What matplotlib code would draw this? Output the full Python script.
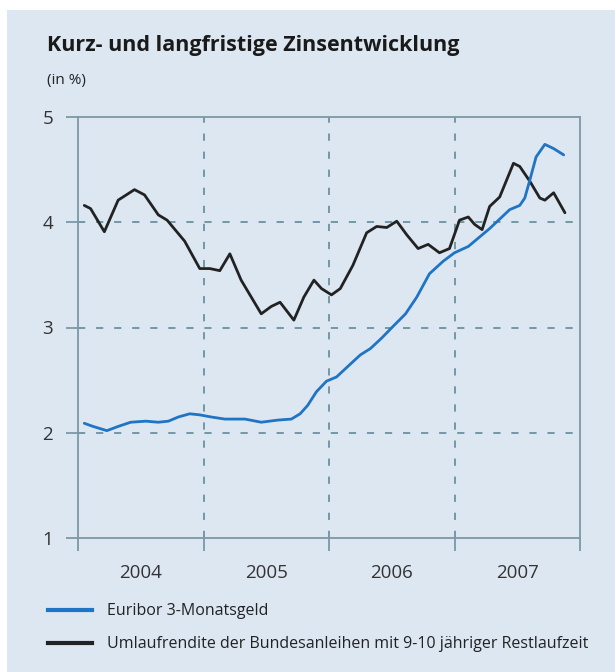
import numpy as np
import matplotlib as mpl
import matplotlib.pyplot as plt
from matplotlib.lines import Line2D
from matplotlib.patches import Rectangle

# Euribor 3-Monatsgeld (decimal years, percent)
euribor_t = [2004.05, 2004.12, 2004.23, 2004.32, 2004.42, 2004.54, 2004.64, 2004.72,
             2004.80, 2004.89, 2004.97, 2005.06, 2005.17, 2005.33, 2005.46, 2005.59,
             2005.70, 2005.77, 2005.83, 2005.90, 2005.98, 2006.06, 2006.15, 2006.25,
             2006.33, 2006.42, 2006.51, 2006.61, 2006.70, 2006.80, 2006.91, 2007.00,
             2007.11, 2007.20, 2007.28, 2007.36, 2007.44, 2007.52, 2007.56, 2007.60,
             2007.65, 2007.72, 2007.79, 2007.87]
euribor_v = [2.09, 2.06, 2.02, 2.06, 2.10, 2.11, 2.10, 2.11,
             2.15, 2.18, 2.17, 2.15, 2.13, 2.13, 2.10, 2.12,
             2.13, 2.18, 2.26, 2.39, 2.49, 2.53, 2.63, 2.74,
             2.80, 2.90, 3.01, 3.13, 3.29, 3.51, 3.63, 3.71,
             3.77, 3.86, 3.94, 4.03, 4.12, 4.16, 4.23, 4.40,
             4.62, 4.74, 4.70, 4.64]

# Umlaufrendite Bundesanleihen 9-10 Jahre
bund_t = [2004.05, 2004.10, 2004.21, 2004.32, 2004.45, 2004.53, 2004.64, 2004.71,
          2004.85, 2004.97, 2005.05, 2005.13, 2005.21, 2005.30, 2005.38, 2005.46,
          2005.54, 2005.61, 2005.72, 2005.80, 2005.88, 2005.94, 2006.02, 2006.09,
          2006.19, 2006.30, 2006.38, 2006.46, 2006.54, 2006.62, 2006.71, 2006.79,
          2006.88, 2006.96, 2007.04, 2007.11, 2007.16, 2007.22, 2007.28, 2007.36,
          2007.47, 2007.52, 2007.60, 2007.68, 2007.72, 2007.79, 2007.88]
bund_v = [4.16, 4.13, 3.91, 4.21, 4.31, 4.26, 4.07, 4.02,
          3.82, 3.56, 3.56, 3.54, 3.70, 3.45, 3.29, 3.13,
          3.20, 3.24, 3.07, 3.29, 3.45, 3.37, 3.31, 3.37,
          3.59, 3.90, 3.96, 3.95, 4.01, 3.88, 3.75, 3.79,
          3.71, 3.75, 4.02, 4.05, 3.98, 3.93, 4.15, 4.24,
          4.56, 4.53, 4.39, 4.23, 4.21, 4.28, 4.09]

years = [2004, 2005, 2006, 2007]
y_ticks = [1, 2, 3, 4, 5]

title = "Kurz- und langfristige Zinsentwicklung"
unit = "(in %)"
labels = ["Euribor 3-Monatsgeld",
          "Umlaufrendite der Bundesanleihen mit 9-10 jähriger Restlaufzeit"]

bg = "#dde7f2"
grid_col = "#6d909f"
spine_col = "#7c98a6"
blue = "#1f74c4"
black = "#222222"

plt.rcParams['font.family'] = ['Open Sans', 'DejaVu Sans']

W, H = 615, 672
fig = plt.figure(figsize=(W / 100, H / 100), dpi=100)
fig.patch.set_facecolor("white")
fig.add_artist(Rectangle((7 / W, 0), 1, 1 - 10 / H, transform=fig.transFigure,
                         facecolor=bg, edgecolor="none", zorder=-10))

ax = fig.add_axes([78 / W, 1 - 538 / H, (580 - 78) / W, (538 - 117) / H])
ax.set_facecolor(bg)

ax.plot(bund_t, bund_v, color=black, linewidth=2.0,
        solid_capstyle='round', solid_joinstyle='round', zorder=3)
ax.plot(euribor_t, euribor_v, color=blue, linewidth=2.0,
        solid_capstyle='round', solid_joinstyle='round', zorder=4)

ax.set_xlim(years[0], years[-1] + 1)
ax.set_ylim(y_ticks[0], y_ticks[-1])

for s in ax.spines.values():
    s.set_color(spine_col)
    s.set_linewidth(1.3)

ax.set_yticks(y_ticks)
ax.set_yticklabels([str(v) for v in y_ticks])
ax.set_xticks(years + [years[-1] + 1])
ax.set_xticklabels([])
ax.set_xticks([y + 0.5 for y in years], minor=True)
ax.set_xticklabels([str(y) for y in years], minor=True)

ax.tick_params(axis='y', direction='out', length=9, width=1.3, color=spine_col,
               pad=9, labelsize=13.5, labelcolor="#333333")
ax.tick_params(axis='x', which='major', direction='out', length=9, width=1.3,
               color=spine_col)
ax.tick_params(axis='x', which='minor', length=0, pad=19, labelsize=13.5,
               labelcolor="#333333")

for y in y_ticks[1:-1]:
    ax.axhline(y, color=grid_col, linewidth=1.3, linestyle=(0, (4, 6)), zorder=1)
for x in years[1:]:
    ax.axvline(x, color=grid_col, linewidth=1.3, linestyle=(0, (4, 6)), zorder=1)

fig.text(47 / W, 1 - 51 / H, title, fontsize=15.5, fontweight='bold',
         color="#1a1a1a", va='baseline', ha='left')
fig.text(47 / W, 1 - 84 / H, unit, fontsize=11, color="#222222",
         va='baseline', ha='left')

handles = [Line2D([], [], color=blue, linewidth=3),
           Line2D([], [], color=black, linewidth=3)]
fig.legend(handles, labels, loc='upper left', bbox_to_anchor=(34 / W, 1 - 589 / H),
           frameon=False, fontsize=11.5, handlelength=2.7, handletextpad=0.95,
           labelspacing=1.05, labelcolor="#222222")

fig.savefig("out.png", dpi=100, facecolor=fig.get_facecolor())
